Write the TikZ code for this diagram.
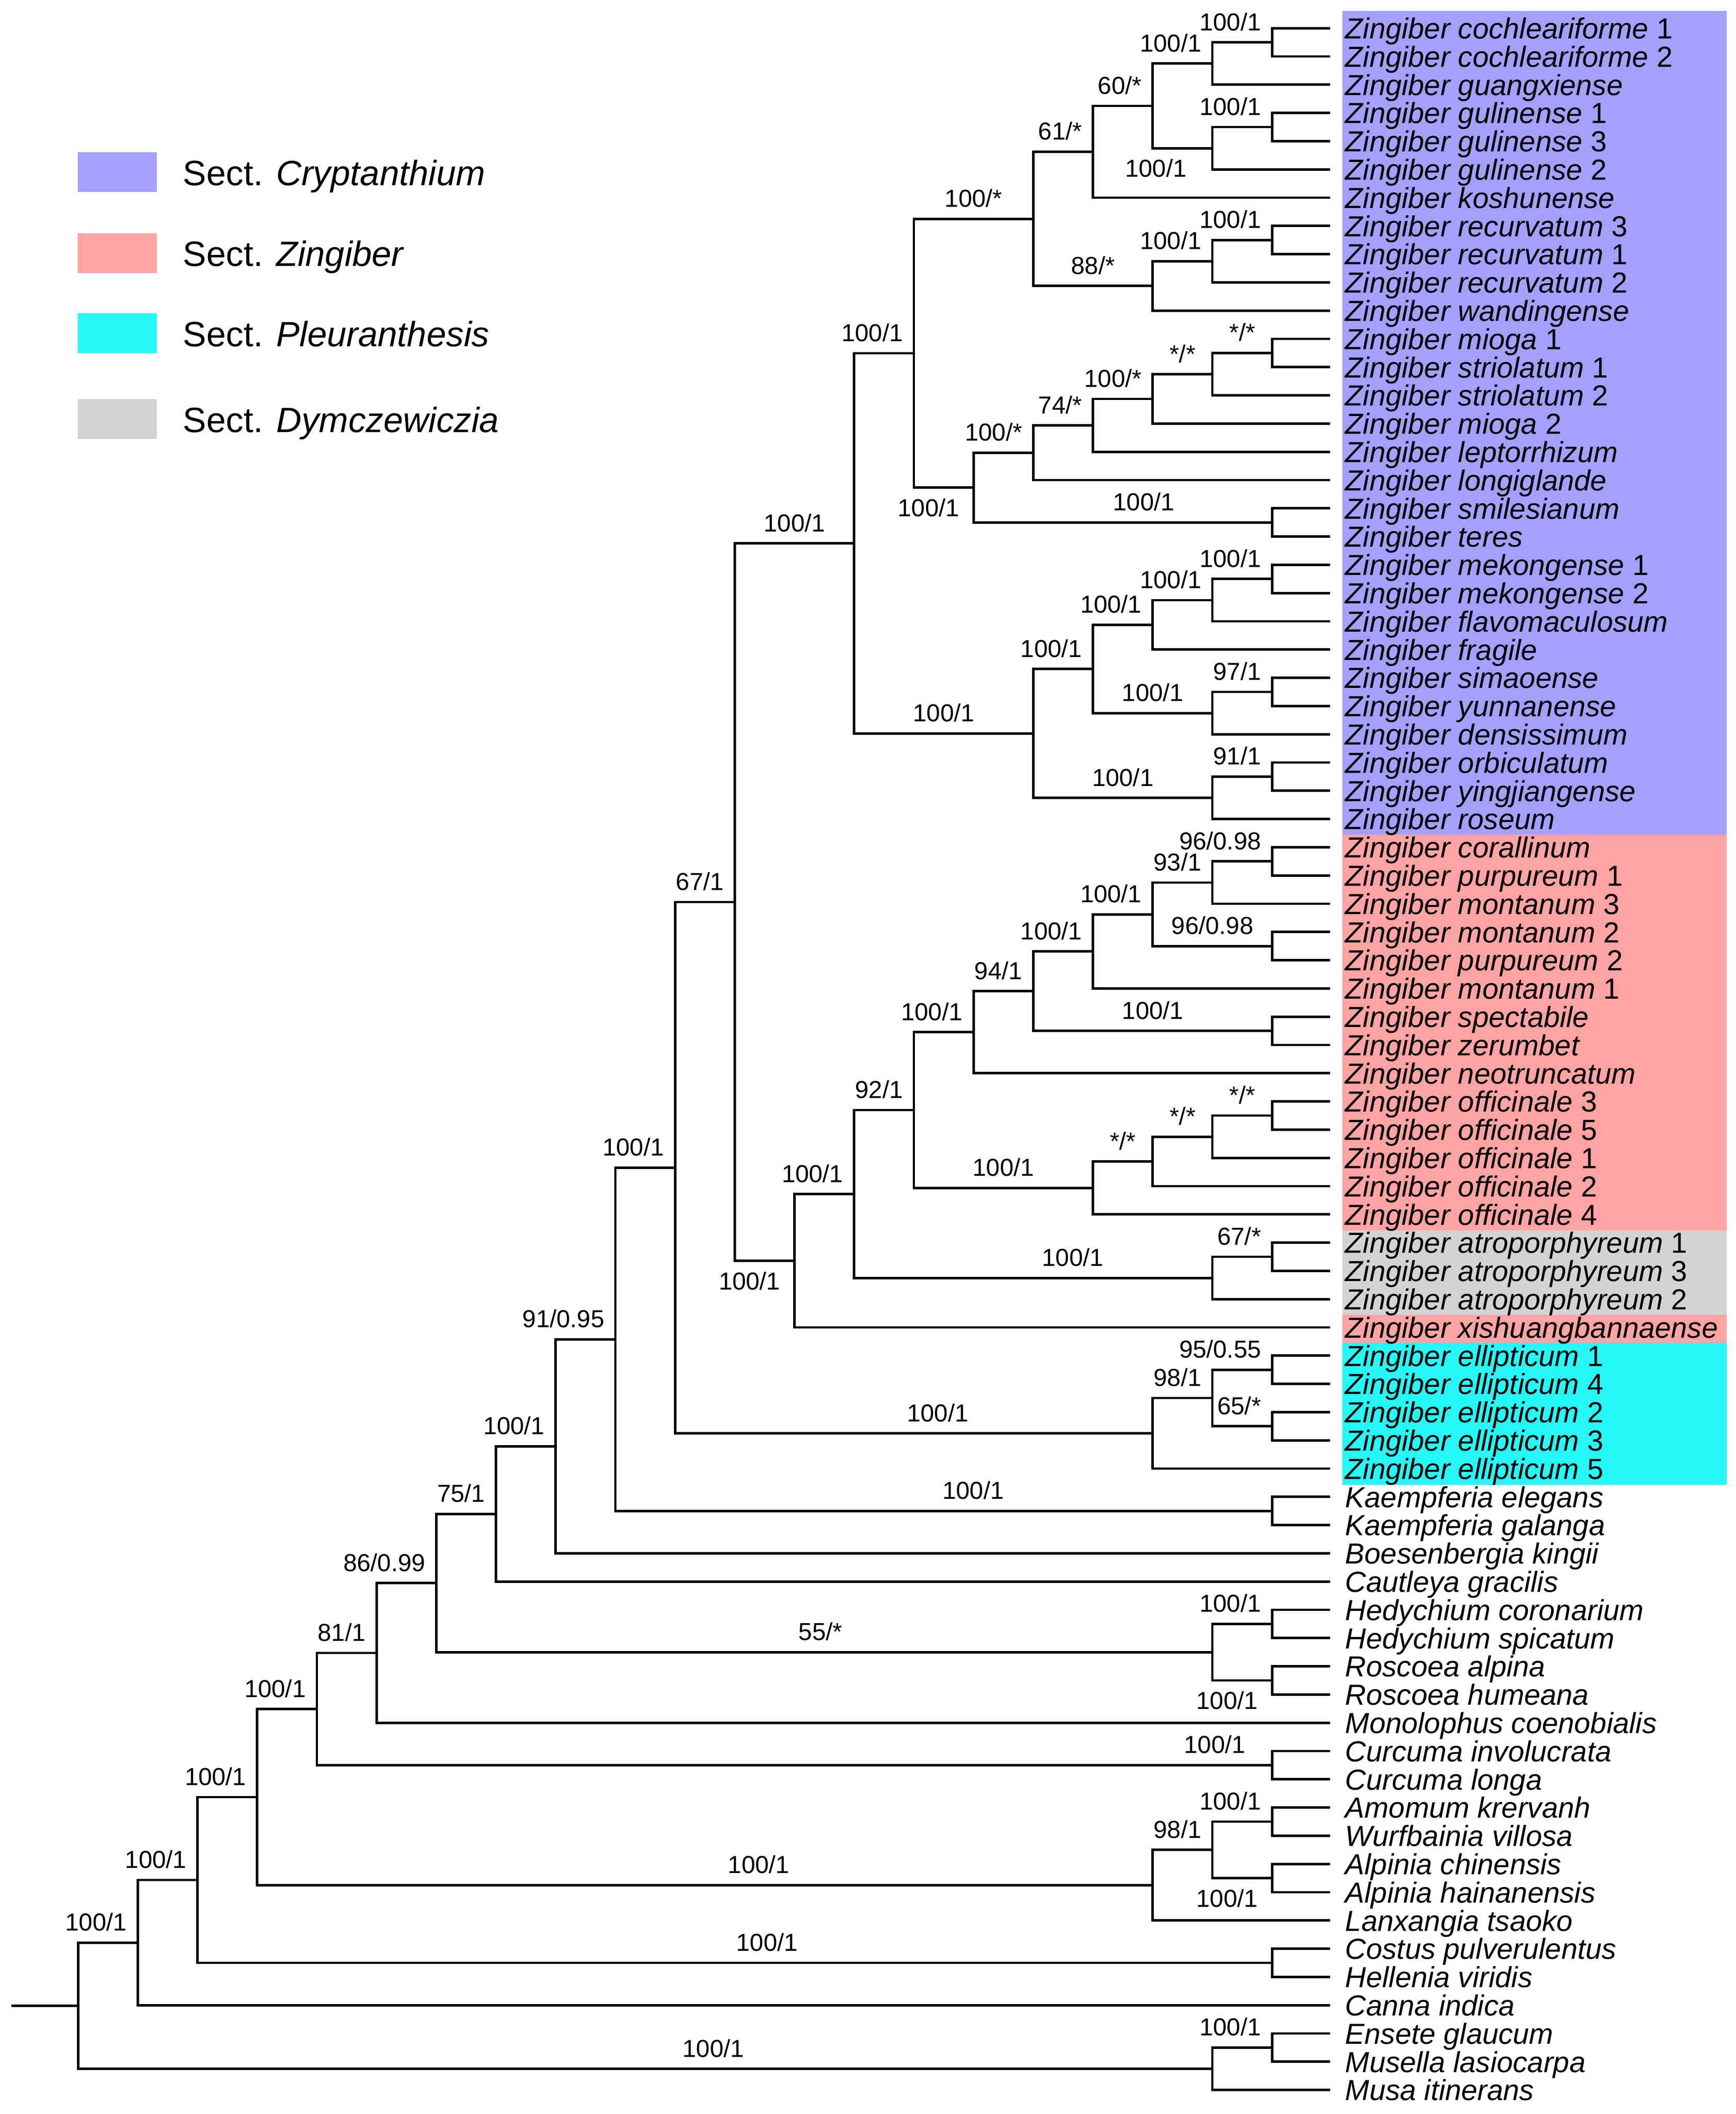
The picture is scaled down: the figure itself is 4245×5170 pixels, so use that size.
\documentclass[tikz,border=0pt]{standalone}
\usepackage{fontspec}
\setmainfont{Liberation Sans}
\usepackage{tikz}
\usetikzlibrary{positioning}
\definecolor{cryptcol}{HTML}{A4A0FF}
\definecolor{zingcol}{HTML}{FFA3A3}
\definecolor{pleucol}{HTML}{27F6F6}
\definecolor{dymcol}{HTML}{D3D3D3}
\newcommand{\leaffont}{\fontsize{17.75}{21}\selectfont}
\newcommand{\suppfont}{\fontsize{15}{18}\selectfont}
\newcommand{\keyfont}{\fontsize{21.5}{26}\selectfont}
\tikzset{
  br/.style={line width=1.5pt},
  twig/.style={br, shorten >=9.25pt},
  leaf/.style={anchor=west, inner sep=0pt, outer sep=0pt, font=\leaffont, text height=12.8pt, text depth=0pt},
  bs/.style={font=\suppfont, inner sep=0pt, text depth=0pt},
  suppr/.style={bs, pos=1, anchor=south east, xshift=-6pt, yshift=6.5pt},
  suppc/.style={bs, pos=0.75, anchor=south, yshift=6.5pt},
  suppd/.style={bs, pos=1, anchor=north east, xshift=-8pt, yshift=-6pt},
  sectkey/.style={minimum width=48.5pt, minimum height=24.25pt, inner sep=0pt},
  secttext/.style={font=\keyfont, inner sep=0pt, text height=16pt, text depth=0pt}
}
\begin{document}
\begin{tikzpicture}[x=0.25pt, y=-0.25pt]
  \useasboundingbox (0,0) rectangle (4245,5170);

  \node[sectkey, fill=cryptcol] (KC) at (287,421) {};
  \node[sectkey, fill=zingcol] (KZ) at (287,619) {};
  \node[sectkey, fill=pleucol] (KP) at (287,815) {};
  \node[sectkey, fill=dymcol] (KD) at (287,1025) {};
  \node[secttext, right=15.5pt of KC] (TC) {Sect. \textit{Cryptanthium}};
  \node[secttext, right=15.5pt of KZ] (TZ) {Sect. \textit{Zingiber}};
  \node[secttext, right=15.5pt of KP] (TP) {Sect. \textit{Pleuranthesis}};
  \node[secttext, right=15.5pt of KD] (TD) {Sect. \textit{Dymczewiczia}};

  \begin{scope}[y=-17.2675pt]
  \fill[cryptcol] (3283,0.39) rectangle (4223,29.55);
  \fill[zingcol] (3283,29.55) rectangle (4223,43.56);
  \fill[dymcol] (3283,43.56) rectangle (4223,46.56);
  \fill[zingcol] (3283,46.56) rectangle (4223,47.55);
  \fill[pleucol] (3283,47.55) rectangle (4223,52.57);

  \node[leaf] (L1) at (3290,1) {\textit{Zingiber cochleariforme} 1};
  \node[leaf] (L2) at (3290,2) {\textit{Zingiber cochleariforme} 2};
  \node[leaf] (L3) at (3290,3) {\textit{Zingiber guangxiense}};
  \node[leaf] (L4) at (3290,4) {\textit{Zingiber gulinense} 1};
  \node[leaf] (L5) at (3290,5) {\textit{Zingiber gulinense} 3};
  \node[leaf] (L6) at (3290,6) {\textit{Zingiber gulinense} 2};
  \node[leaf] (L7) at (3290,7) {\textit{Zingiber koshunense}};
  \node[leaf] (L8) at (3290,8) {\textit{Zingiber recurvatum} 3};
  \node[leaf] (L9) at (3290,9) {\textit{Zingiber recurvatum} 1};
  \node[leaf] (L10) at (3290,10) {\textit{Zingiber recurvatum} 2};
  \node[leaf] (L11) at (3290,11) {\textit{Zingiber wandingense}};
  \node[leaf] (L12) at (3290,12) {\textit{Zingiber mioga} 1};
  \node[leaf] (L13) at (3290,13) {\textit{Zingiber striolatum} 1};
  \node[leaf] (L14) at (3290,14) {\textit{Zingiber striolatum} 2};
  \node[leaf] (L15) at (3290,15) {\textit{Zingiber mioga} 2};
  \node[leaf] (L16) at (3290,16) {\textit{Zingiber leptorrhizum}};
  \node[leaf] (L17) at (3290,17) {\textit{Zingiber longiglande}};
  \node[leaf] (L18) at (3290,18) {\textit{Zingiber smilesianum}};
  \node[leaf] (L19) at (3290,19) {\textit{Zingiber teres}};
  \node[leaf] (L20) at (3290,20) {\textit{Zingiber mekongense} 1};
  \node[leaf] (L21) at (3290,21) {\textit{Zingiber mekongense} 2};
  \node[leaf] (L22) at (3290,22) {\textit{Zingiber flavomaculosum}};
  \node[leaf] (L23) at (3290,23) {\textit{Zingiber fragile}};
  \node[leaf] (L24) at (3290,24) {\textit{Zingiber simaoense}};
  \node[leaf] (L25) at (3290,25) {\textit{Zingiber yunnanense}};
  \node[leaf] (L26) at (3290,26) {\textit{Zingiber densissimum}};
  \node[leaf] (L27) at (3290,27) {\textit{Zingiber orbiculatum}};
  \node[leaf] (L28) at (3290,28) {\textit{Zingiber yingjiangense}};
  \node[leaf] (L29) at (3290,29) {\textit{Zingiber roseum}};
  \node[leaf] (L30) at (3290,30) {\textit{Zingiber corallinum}};
  \node[leaf] (L31) at (3290,31) {\textit{Zingiber purpureum} 1};
  \node[leaf] (L32) at (3290,32) {\textit{Zingiber montanum} 3};
  \node[leaf] (L33) at (3290,33) {\textit{Zingiber montanum} 2};
  \node[leaf] (L34) at (3290,34) {\textit{Zingiber purpureum} 2};
  \node[leaf] (L35) at (3290,35) {\textit{Zingiber montanum} 1};
  \node[leaf] (L36) at (3290,36) {\textit{Zingiber spectabile}};
  \node[leaf] (L37) at (3290,37) {\textit{Zingiber zerumbet}};
  \node[leaf] (L38) at (3290,38) {\textit{Zingiber neotruncatum}};
  \node[leaf] (L39) at (3290,39) {\textit{Zingiber officinale} 3};
  \node[leaf] (L40) at (3290,40) {\textit{Zingiber officinale} 5};
  \node[leaf] (L41) at (3290,41) {\textit{Zingiber officinale} 1};
  \node[leaf] (L42) at (3290,42) {\textit{Zingiber officinale} 2};
  \node[leaf] (L43) at (3290,43) {\textit{Zingiber officinale} 4};
  \node[leaf] (L44) at (3290,44) {\textit{Zingiber atroporphyreum} 1};
  \node[leaf] (L45) at (3290,45) {\textit{Zingiber atroporphyreum} 3};
  \node[leaf] (L46) at (3290,46) {\textit{Zingiber atroporphyreum} 2};
  \node[leaf] (L47) at (3290,47) {\textit{Zingiber xishuangbannaense}};
  \node[leaf] (L48) at (3290,48) {\textit{Zingiber ellipticum} 1};
  \node[leaf] (L49) at (3290,49) {\textit{Zingiber ellipticum} 4};
  \node[leaf] (L50) at (3290,50) {\textit{Zingiber ellipticum} 2};
  \node[leaf] (L51) at (3290,51) {\textit{Zingiber ellipticum} 3};
  \node[leaf] (L52) at (3290,52) {\textit{Zingiber ellipticum} 5};
  \node[leaf] (L53) at (3290,53) {\textit{Kaempferia elegans}};
  \node[leaf] (L54) at (3290,54) {\textit{Kaempferia galanga}};
  \node[leaf] (L55) at (3290,55) {\textit{Boesenbergia kingii}};
  \node[leaf] (L56) at (3290,56) {\textit{Cautleya gracilis}};
  \node[leaf] (L57) at (3290,57) {\textit{Hedychium coronarium}};
  \node[leaf] (L58) at (3290,58) {\textit{Hedychium spicatum}};
  \node[leaf] (L59) at (3290,59) {\textit{Roscoea alpina}};
  \node[leaf] (L60) at (3290,60) {\textit{Roscoea humeana}};
  \node[leaf] (L61) at (3290,61) {\textit{Monolophus coenobialis}};
  \node[leaf] (L62) at (3290,62) {\textit{Curcuma involucrata}};
  \node[leaf] (L63) at (3290,63) {\textit{Curcuma longa}};
  \node[leaf] (L64) at (3290,64) {\textit{Amomum krervanh}};
  \node[leaf] (L65) at (3290,65) {\textit{Wurfbainia villosa}};
  \node[leaf] (L66) at (3290,66) {\textit{Alpinia chinensis}};
  \node[leaf] (L67) at (3290,67) {\textit{Alpinia hainanensis}};
  \node[leaf] (L68) at (3290,68) {\textit{Lanxangia tsaoko}};
  \node[leaf] (L69) at (3290,69) {\textit{Costus pulverulentus}};
  \node[leaf] (L70) at (3290,70) {\textit{Hellenia viridis}};
  \node[leaf] (L71) at (3290,71) {\textit{Canna indica}};
  \node[leaf] (L72) at (3290,72) {\textit{Ensete glaucum}};
  \node[leaf] (L73) at (3290,73) {\textit{Musella lasiocarpa}};
  \node[leaf] (L74) at (3290,74) {\textit{Musa itinerans}};

  \coordinate (A1) at (3111,1.5);
  \coordinate (A2) at (2965,2.25);
  \coordinate (A3) at (3111,4.5);
  \coordinate (A4) at (2965,5.25);
  \coordinate (A5) at (2819,3.75);
  \coordinate (A6) at (2673,5.375);
  \coordinate (A7) at (3111,8.5);
  \coordinate (A8) at (2965,9.25);
  \coordinate (A9) at (2819,10.125);
  \coordinate (A10) at (2527,7.75);
  \coordinate (B1) at (3111,12.5);
  \coordinate (B2) at (2965,13.25);
  \coordinate (B3) at (2819,14.125);
  \coordinate (B4) at (2673,15.0625);
  \coordinate (B5) at (2527,16.0313);
  \coordinate (B6) at (3111,18.5);
  \coordinate (B7) at (2381,17.2656);
  \coordinate (A11) at (2235,12.5078);
  \coordinate (C1) at (3111,20.5);
  \coordinate (C2) at (2965,21.25);
  \coordinate (C3) at (2819,22.125);
  \coordinate (C4) at (3111,24.5);
  \coordinate (C5) at (2965,25.25);
  \coordinate (C6) at (2673,23.6875);
  \coordinate (C7) at (3111,27.5);
  \coordinate (C8) at (2965,28.25);
  \coordinate (C9) at (2527,25.9688);
  \coordinate (A12) at (2089,19.2383);
  \coordinate (D1) at (3111,30.5);
  \coordinate (D2) at (2965,31.25);
  \coordinate (D3) at (3111,33.5);
  \coordinate (D4) at (2819,32.375);
  \coordinate (D5) at (2673,33.6875);
  \coordinate (D6) at (3111,36.5);
  \coordinate (D7) at (2527,35.0938);
  \coordinate (D8) at (2381,36.5469);
  \coordinate (E1) at (3111,39.5);
  \coordinate (E2) at (2965,40.25);
  \coordinate (E3) at (2819,41.125);
  \coordinate (E4) at (2673,42.0625);
  \coordinate (D9) at (2235,39.3047);
  \coordinate (F1) at (3111,44.5);
  \coordinate (F2) at (2965,45.25);
  \coordinate (D10) at (2089,42.2773);
  \coordinate (D11) at (1943,44.6387);
  \coordinate (G1) at (1797,31.9385);
  \coordinate (P1) at (3111,48.5);
  \coordinate (P2) at (3111,50.5);
  \coordinate (P3) at (2965,49.5);
  \coordinate (P4) at (2819,50.75);
  \coordinate (G2) at (1651,41.3442);
  \coordinate (K1) at (3111,53.5);
  \coordinate (G3) at (1505,47.4221);
  \coordinate (G4) at (1359,51.2111);
  \coordinate (G5) at (1213,53.6055);
  \coordinate (M1) at (3111,57.5);
  \coordinate (M2) at (3111,59.5);
  \coordinate (M3) at (2965,58.5);
  \coordinate (G6) at (1067,56.0528);
  \coordinate (G7) at (921,58.5264);
  \coordinate (Q1) at (3111,62.5);
  \coordinate (G8) at (775,60.5132);
  \coordinate (R1) at (3111,64.5);
  \coordinate (R2) at (3111,66.5);
  \coordinate (R3) at (2965,65.5);
  \coordinate (R4) at (2819,66.75);
  \coordinate (G9) at (629,63.6316);
  \coordinate (S1) at (3111,69.5);
  \coordinate (G10) at (483,66.5658);
  \coordinate (G11) at (337,68.7829);
  \coordinate (U1) at (3111,72.5);
  \coordinate (U2) at (2965,73.25);
  \coordinate (R0) at (191,71.0164);
  \coordinate (RS) at (28,71.0164);

  \draw[twig] (A1) |- (L1);
  \draw[twig] (A1) |- (L2);
  \draw[br] (A2) |- node[suppr] {100/1} (A1);
  \draw[twig] (A2) |- (L3);
  \draw[twig] (A3) |- (L4);
  \draw[twig] (A3) |- (L5);
  \draw[br] (A4) |- node[suppr] {100/1} (A3);
  \draw[twig] (A4) |- (L6);
  \draw[br] (A5) |- node[suppr] {100/1} (A2);
  \draw[br] (A5) |- node[suppd, xshift=-7pt] {100/1} (A4);
  \draw[br] (A6) |- node[suppr] {60/*} (A5);
  \draw[twig] (A6) |- (L7);
  \draw[twig] (A7) |- (L8);
  \draw[twig] (A7) |- (L9);
  \draw[br] (A8) |- node[suppr] {100/1} (A7);
  \draw[twig] (A8) |- (L10);
  \draw[br] (A9) |- node[suppr] {100/1} (A8);
  \draw[twig] (A9) |- (L11);
  \draw[br] (A10) |- node[suppr] {61/*} (A6);
  \draw[br] (A10) |- node[suppc] {88/*} (A9);
  \draw[twig] (B1) |- (L12);
  \draw[twig] (B1) |- (L13);
  \draw[br] (B2) |- node[suppc] {*/*} (B1);
  \draw[twig] (B2) |- (L14);
  \draw[br] (B3) |- node[suppc] {*/*} (B2);
  \draw[twig] (B3) |- (L15);
  \draw[br] (B4) |- node[suppr] {100/*} (B3);
  \draw[twig] (B4) |- (L16);
  \draw[br] (B5) |- node[suppr] {74/*} (B4);
  \draw[twig] (B5) |- (L17);
  \draw[twig] (B6) |- (L18);
  \draw[twig] (B6) |- (L19);
  \draw[br] (B7) |- node[suppr] {100/*} (B5);
  \draw[br] (B7) |- node[suppc, pos=0.785] {100/1} (B6);
  \draw[br] (A11) |- node[suppc] {100/*} (A10);
  \draw[br] (A11) |- node[suppd] {100/1} (B7);
  \draw[twig] (C1) |- (L20);
  \draw[twig] (C1) |- (L21);
  \draw[br] (C2) |- node[suppr] {100/1} (C1);
  \draw[twig] (C2) |- (L22);
  \draw[br] (C3) |- node[suppr] {100/1} (C2);
  \draw[twig] (C3) |- (L23);
  \draw[twig] (C4) |- (L24);
  \draw[twig] (C4) |- (L25);
  \draw[br] (C5) |- node[suppr] {97/1} (C4);
  \draw[twig] (C5) |- (L26);
  \draw[br] (C6) |- node[suppr] {100/1} (C3);
  \draw[br] (C6) |- node[suppc] {100/1} (C5);
  \draw[twig] (C7) |- (L27);
  \draw[twig] (C7) |- (L28);
  \draw[br] (C8) |- node[suppr] {91/1} (C7);
  \draw[twig] (C8) |- (L29);
  \draw[br] (C9) |- node[suppr] {100/1} (C6);
  \draw[br] (C9) |- node[suppc] {100/1} (C8);
  \draw[br] (A12) |- node[suppr] {100/1} (A11);
  \draw[br] (A12) |- node[suppc] {100/1} (C9);
  \draw[twig] (D1) |- (L30);
  \draw[twig] (D1) |- (L31);
  \draw[br] (D2) |- node[suppr] {96/0.98} (D1);
  \draw[twig] (D2) |- (L32);
  \draw[twig] (D3) |- (L33);
  \draw[twig] (D3) |- (L34);
  \draw[br] (D4) |- node[suppr] {93/1} (D2);
  \draw[br] (D4) |- node[suppc] {96/0.98} (D3);
  \draw[br] (D5) |- node[suppr] {100/1} (D4);
  \draw[twig] (D5) |- (L35);
  \draw[twig] (D6) |- (L36);
  \draw[twig] (D6) |- (L37);
  \draw[br] (D7) |- node[suppr] {100/1} (D5);
  \draw[br] (D7) |- node[suppc] {100/1} (D6);
  \draw[br] (D8) |- node[suppr] {94/1} (D7);
  \draw[twig] (D8) |- (L38);
  \draw[twig] (E1) |- (L39);
  \draw[twig] (E1) |- (L40);
  \draw[br] (E2) |- node[suppc] {*/*} (E1);
  \draw[twig] (E2) |- (L41);
  \draw[br] (E3) |- node[suppc] {*/*} (E2);
  \draw[twig] (E3) |- (L42);
  \draw[br] (E4) |- node[suppc] {*/*} (E3);
  \draw[twig] (E4) |- (L43);
  \draw[br] (D9) |- node[suppr] {100/1} (D8);
  \draw[br] (D9) |- node[suppc] {100/1} (E4);
  \draw[twig] (F1) |- (L44);
  \draw[twig] (F1) |- (L45);
  \draw[br] (F2) |- node[suppr] {67/*} (F1);
  \draw[twig] (F2) |- (L46);
  \draw[br] (D10) |- node[suppr] {92/1} (D9);
  \draw[br] (D10) |- node[suppc, pos=0.805] {100/1} (F2);
  \draw[br] (D11) |- node[suppr] {100/1} (D10);
  \draw[twig] (D11) |- (L47);
  \draw[br] (G1) |- node[suppc] {100/1} (A12);
  \draw[br] (G1) |- node[suppd] {100/1} (D11);
  \draw[twig] (P1) |- (L48);
  \draw[twig] (P1) |- (L49);
  \draw[twig] (P2) |- (L50);
  \draw[twig] (P2) |- (L51);
  \draw[br] (P3) |- node[suppr] {95/0.55} (P1);
  \draw[br] (P3) |- node[suppr] {65/*} (P2);
  \draw[br] (P4) |- node[suppr] {98/1} (P3);
  \draw[twig] (P4) |- (L52);
  \draw[br] (G2) |- node[suppr] {67/1} (G1);
  \draw[br] (G2) |- node[suppc, pos=0.775] {100/1} (P4);
  \draw[twig] (K1) |- (L53);
  \draw[twig] (K1) |- (L54);
  \draw[br] (G3) |- node[suppr] {100/1} (G2);
  \draw[br] (G3) |- node[suppc, pos=0.7725] {100/1} (K1);
  \draw[br] (G4) |- node[suppr] {91/0.95} (G3);
  \draw[twig] (G4) |- (L55);
  \draw[br] (G5) |- node[suppr] {100/1} (G4);
  \draw[twig] (G5) |- (L56);
  \draw[twig] (M1) |- (L57);
  \draw[twig] (M1) |- (L58);
  \draw[twig] (M2) |- (L59);
  \draw[twig] (M2) |- (L60);
  \draw[br] (M3) |- node[suppr] {100/1} (M1);
  \draw[br] (M3) |- node[suppd] {100/1} (M2);
  \draw[br] (G6) |- node[suppr] {75/1} (G5);
  \draw[br] (G6) |- node[suppc, pos=0.7475] {55/*} (M3);
  \draw[br] (G7) |- node[suppr] {86/0.99} (G6);
  \draw[twig] (G7) |- (L61);
  \draw[twig] (Q1) |- (L62);
  \draw[twig] (Q1) |- (L63);
  \draw[br] (G8) |- node[suppr] {81/1} (G7);
  \draw[br] (G8) |- node[suppc, pos=0.97] {100/1} (Q1);
  \draw[twig] (R1) |- (L64);
  \draw[twig] (R1) |- (L65);
  \draw[twig] (R2) |- (L66);
  \draw[twig] (R2) |- (L67);
  \draw[br] (R3) |- node[suppr] {100/1} (R1);
  \draw[br] (R3) |- node[suppd] {100/1} (R2);
  \draw[br] (R4) |- node[suppr] {98/1} (R3);
  \draw[twig] (R4) |- (L68);
  \draw[br] (G9) |- node[suppr] {100/1} (G8);
  \draw[br] (G9) |- node[suppc, pos=0.78] {100/1} (R4);
  \draw[twig] (S1) |- (L69);
  \draw[twig] (S1) |- (L70);
  \draw[br] (G10) |- node[suppr] {100/1} (G9);
  \draw[br] (G10) |- node[suppc, pos=0.765] {100/1} (S1);
  \draw[br] (G11) |- node[suppr] {100/1} (G10);
  \draw[twig] (G11) |- (L71);
  \draw[twig] (U1) |- (L72);
  \draw[twig] (U1) |- (L73);
  \draw[br] (U2) |- node[suppr] {100/1} (U1);
  \draw[twig] (U2) |- (L74);
  \draw[br] (R0) |- node[suppr] {100/1} (G11);
  \draw[br] (R0) |- node[suppc, pos=0.78] {100/1} (U2);
  \draw[br] (RS) -- (R0);
  \end{scope}
\end{tikzpicture}
\end{document}
